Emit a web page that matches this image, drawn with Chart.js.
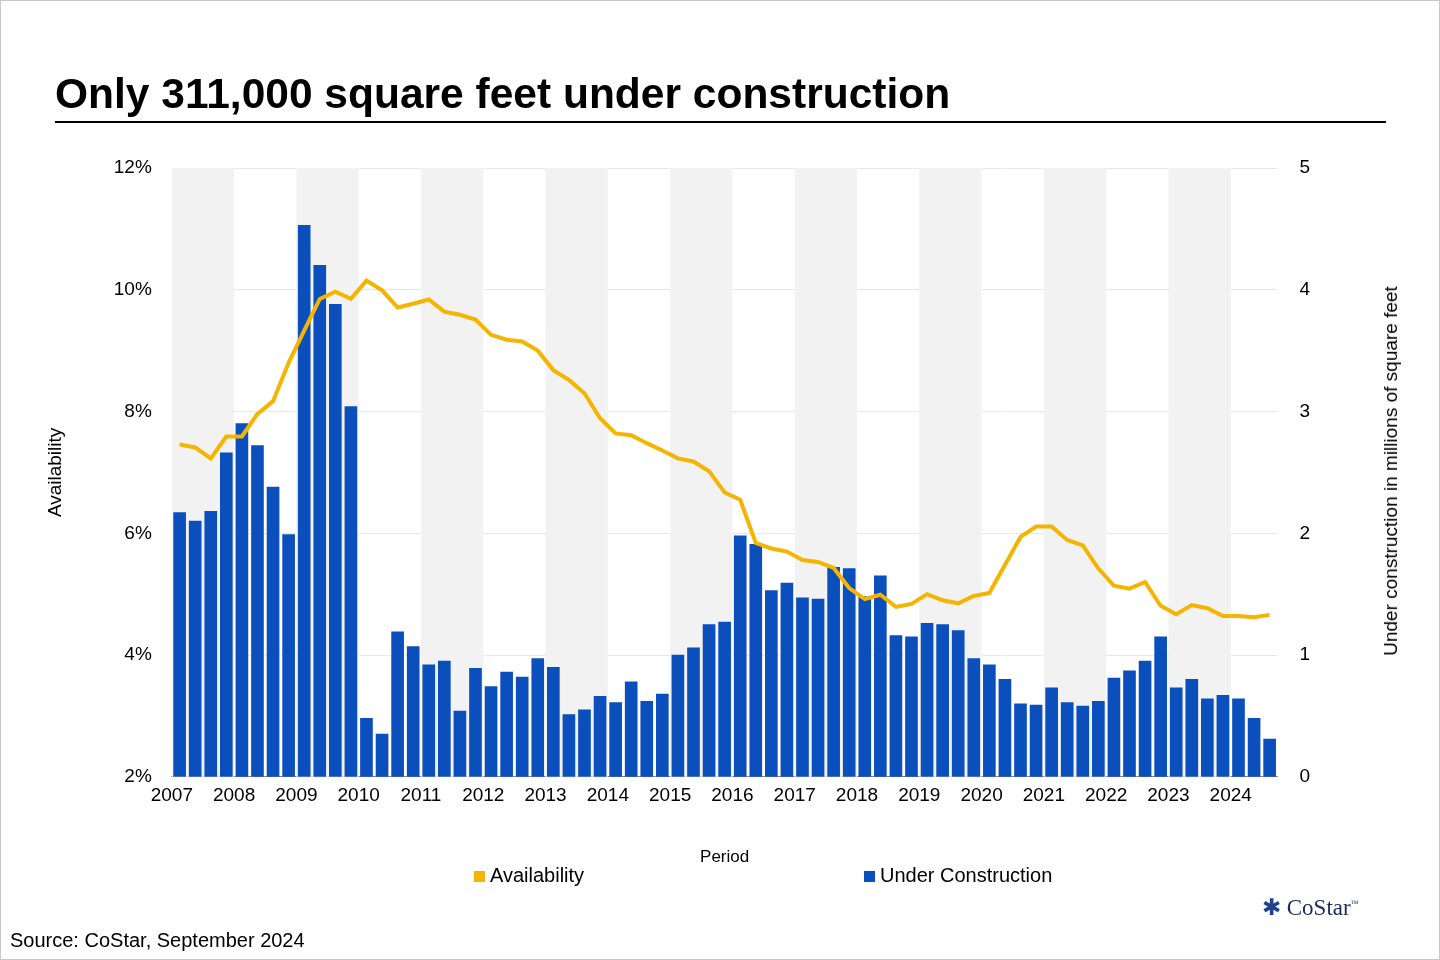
<!DOCTYPE html>
<html><head><meta charset="utf-8">
<script src="https://cdn.jsdelivr.net/npm/chart.js@4/dist/chart.umd.min.js"></script>
<style>
body{margin:0;width:1440px;height:960px;background:#fff;font-family:"Liberation Sans",Arial,sans-serif;overflow:hidden}
#frame{position:absolute;left:0;top:0;width:1438px;height:958px;border:1px solid #c8c8c8}
#title{position:absolute;left:55px;top:70px;font-size:42.5px;font-weight:bold;color:#000}
#rule{position:absolute;left:55px;top:121px;width:1331px;height:2px;background:#000}
#wrap{position:absolute;left:0;top:0;width:1440px;height:960px}
.leg{position:absolute;top:864px;font-size:20px;color:#000}
.leg i{display:inline-block;width:11px;height:11px;margin-right:5px}
#src{position:absolute;left:10px;top:929px;font-size:20px}
#logo{position:absolute;left:1262px;top:894px;font-family:"Liberation Serif",serif;font-size:23px;color:#1a2a5a}
#rtitle{position:absolute;left:1391px;top:471px;font-size:19px;white-space:nowrap;transform:translate(-50%,-50%) rotate(-90deg)}
</style></head><body>
<div id="frame"></div>
<div id="wrap"><canvas id="c" width="1440" height="960"></canvas></div>
<div id="title">Only 311,000 square feet under construction</div>
<div id="rule"></div>
<div id="rtitle">Under construction in millions of square feet</div>
<div class="leg" style="left:474px"><i style="background:#F5B400"></i>Availability</div>
<div class="leg" style="left:864px"><i style="background:#0B4FBD"></i>Under Construction</div>
<div id="src">Source: CoStar, September 2024</div>
<div id="logo"><span style="color:#1f3f8f">&#10033;</span> CoStar<sup style="font-size:8px">™</sup></div>
<script>
// quarterly data, 2007 Q1 .. 2024 Q3
const firstYear = 2007;
const yearTicks = [2007,2008,2009,2010,2011,2012,2013,2014,2015,2016,2017,2018,2019,2020,2021,2022,2023,2024];
const underConstruction = [
  2.17,2.10,2.18,2.66, 2.90,2.72,2.38,1.99, 4.53,4.20,3.88,3.04, 0.48,0.35,1.19,1.07,
  0.92,0.95,0.54,0.89, 0.74,0.86,0.82,0.97, 0.90,0.51,0.55,0.66, 0.61,0.78,0.62,0.68,
  1.00,1.06,1.25,1.27, 1.98,1.91,1.53,1.59, 1.47,1.46,1.72,1.71, 1.48,1.65,1.16,1.15,
  1.26,1.25,1.20,0.97, 0.92,0.80,0.60,0.59, 0.73,0.61,0.58,0.62, 0.81,0.87,0.95,1.15,
  0.73,0.80,0.64,0.67, 0.64,0.48,0.31];
const availability = [
  7.46,7.41,7.23,7.59, 7.59,7.96,8.17,8.80, 9.33,9.85,9.97,9.85, 10.15,9.99,9.71,9.77,
  9.84,9.64,9.59,9.51, 9.26,9.18,9.15,9.00, 8.68,8.52,8.30,7.89, 7.64,7.61,7.48,7.36,
  7.23,7.18,7.02,6.67, 6.55,5.84,5.75,5.70, 5.56,5.53,5.43,5.10, 4.92,4.99,4.79,4.84,
  5.00,4.90,4.85,4.97, 5.02,5.48,5.94,6.11, 6.11,5.89,5.80,5.42, 5.14,5.09,5.20,4.81,
  4.67,4.82,4.77,4.64, 4.64,4.62,4.66];

const ucPts = underConstruction.map((v,i)=>({x:i+0.5,y:v}));
const avPts = availability.map((v,i)=>({x:i+0.5,y:v}));
const nQ = underConstruction.length;

const yearBands = {
  id:'yearBands',
  beforeDatasetsDraw(chart){
    const {ctx, chartArea:a, scales:{x}} = chart;
    ctx.save(); ctx.fillStyle='#f2f2f2';
    yearTicks.forEach((yr,k)=>{
      if (k%2) return;
      const x0 = x.getPixelForValue(k*4), x1 = x.getPixelForValue(Math.min(k*4+4,nQ));
      ctx.fillRect(x0,a.top,x1-x0,a.bottom-a.top);
    });
    ctx.restore();
  }
};

const font = {family:'"Liberation Sans", Arial, sans-serif', size:19};
new Chart(document.getElementById('c'), {
  data:{datasets:[
    {type:'line', label:'Availability', data:avPts, yAxisID:'y', borderColor:'#F5B400', borderWidth:4, pointRadius:0, tension:0, order:0},
    {type:'bar', label:'Under Construction', data:ucPts, yAxisID:'y2', backgroundColor:'#0B4FBD', barThickness:12, order:1}
  ]},
  options:{
    responsive:false, animation:false,
    layout:{padding:{left:40,right:108,top:168,bottom:88}},
    plugins:{legend:{display:false}, tooltip:{enabled:false}},
    scales:{
      x:{type:'linear', min:0, max:nQ, offset:false,
        afterBuildTicks(s){ s.ticks = yearTicks.map((y,k)=>({value:k*4})); },
        ticks:{font, color:'#000', maxRotation:0, autoSkip:false, padding:2, callback:v=>firstYear+v/4},
        grid:{display:false, drawTicks:true, tickLength:6, tickColor:'#888'},
        border:{color:'#888'},
        title:{display:true, text:'Period', font:{family:font.family,size:17}, color:'#000', padding:{top:38}}},
      y:{position:'left', min:2, max:12, ticks:{stepSize:2, font, color:'#000', padding:20, callback:v=>v+'%'},
        grid:{color:'#e8e8e8', drawTicks:false}, border:{display:false},
        title:{display:true, text:'Availability', font, color:'#000', padding:{top:4,bottom:27}}},
      y2:{position:'right', min:0, max:5, ticks:{stepSize:1, font, color:'#000', padding:22},
        grid:{display:false, drawTicks:false}, border:{display:false}}
    }
  },
  plugins:[yearBands]
});
</script>
</body></html>
